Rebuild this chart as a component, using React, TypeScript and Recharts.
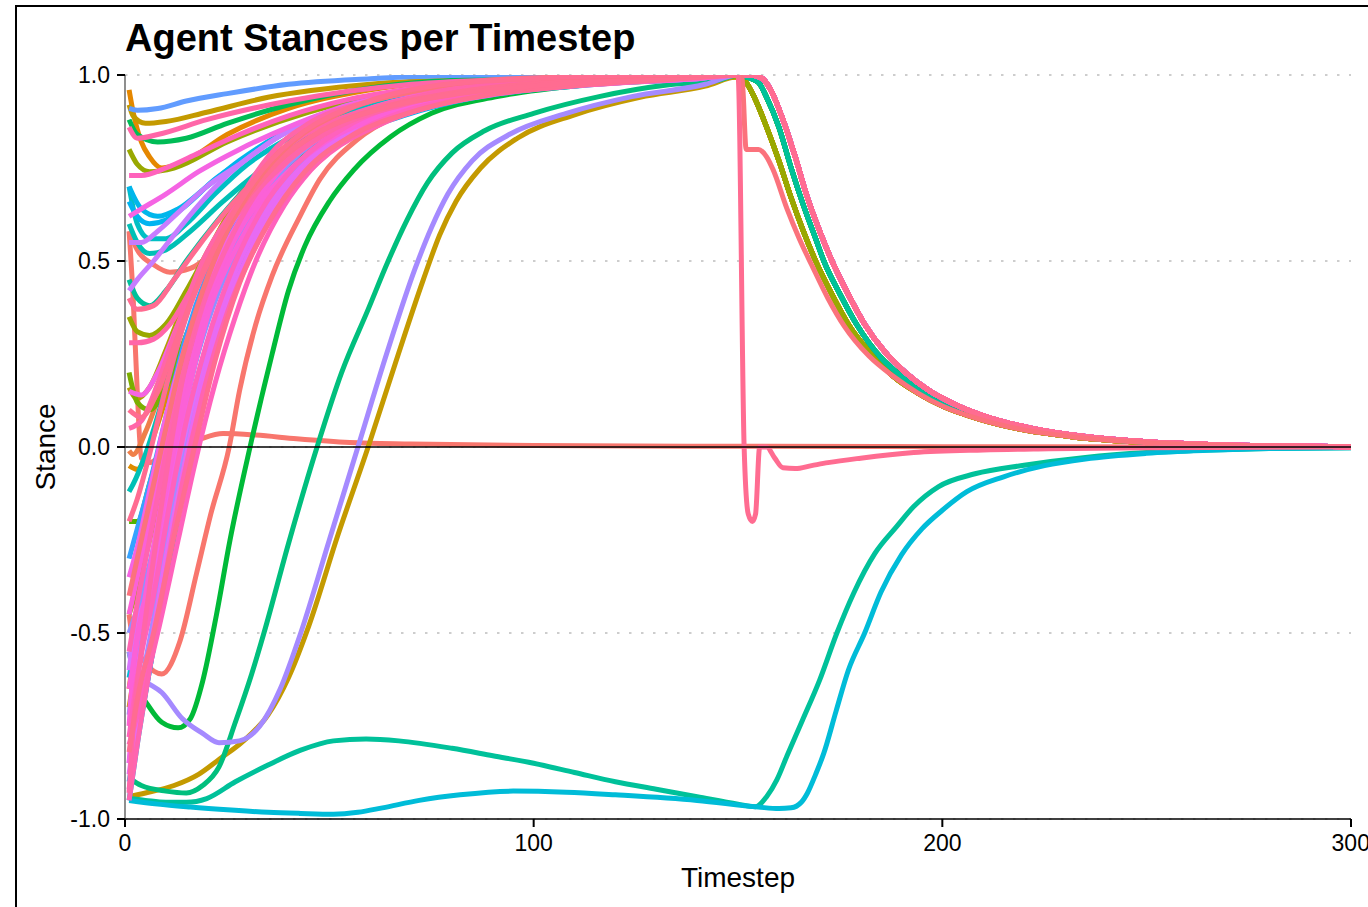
import { LineChart, Line, XAxis, YAxis, CartesianGrid } from 'recharts';

const W = 1368;
const H = 907;
const FONT = '"Liberation Sans", Arial, sans-serif';

const xTicks = [0, 100, 200, 300];
const yTicks = [-1, -0.5, 0, 0.5, 1];
const zeroRule = [[0, 0], [300, 0]];

// shared decay after t=150 (lower edge, middle, upper edge)
const tailEarly = [[150, 0.995], [152, 0.98], [154, 0.94], [157, 0.86], [160, 0.77], [163, 0.67], [166, 0.58], [169, 0.5], [173, 0.41], [177, 0.33], [183, 0.245], [188, 0.19], [194, 0.145], [200, 0.11], [209, 0.075], [219, 0.048], [232, 0.027], [248, 0.013], [263, 0.006], [283, 0.002], [300, 0.001]];
const tailMid = [[150, 1], [152, 0.995], [155, 0.98], [157, 0.94], [160, 0.86], [163, 0.75], [166, 0.65], [169, 0.56], [171, 0.5], [175, 0.41], [179, 0.33], [185, 0.24], [190, 0.19], [196, 0.145], [202, 0.11], [211, 0.075], [221, 0.048], [234, 0.027], [250, 0.013], [265, 0.006], [285, 0.002], [300, 0.001]];
const tailLate = [[150, 1], [153, 1], [156, 0.99], [158, 0.96], [161, 0.88], [164, 0.78], [167, 0.67], [170, 0.58], [173, 0.5], [177, 0.41], [181, 0.33], [186, 0.255], [191, 0.2], [197, 0.15], [203, 0.115], [212, 0.077], [222, 0.05], [235, 0.028], [250, 0.014], [265, 0.007], [285, 0.003], [300, 0.001]];

// agents with their own full path
const zeroAgent = [[1, 0.58], [2, 0.4], [3, 0.15], [4, -0.03], [6, -0.042], [8, -0.03], [11, -0.01], [14, 0.005], [18, 0.02], [24, 0.036], [32, 0.032], [42, 0.022], [55, 0.012], [70, 0.008], [100, 0.004], [150, 0.002], [200, 0.001], [300, 0]];
const tealAgent = [[1, -0.945], [5, -0.95], [10, -0.955], [15, -0.955], [20, -0.945], [27, -0.9], [35, -0.855], [43, -0.815], [51, -0.79], [59, -0.785], [67, -0.79], [80, -0.81], [90, -0.83], [100, -0.85], [110, -0.875], [120, -0.9], [130, -0.92], [140, -0.94], [150, -0.96], [154.3, -0.967], [157, -0.94], [159.5, -0.895], [162, -0.83], [165.8, -0.734], [170, -0.626], [174.2, -0.5], [178.3, -0.393], [183.5, -0.286], [188.8, -0.214], [193, -0.16], [199, -0.107], [208, -0.072], [220, -0.049], [235, -0.028], [250, -0.015], [265, -0.008], [280, -0.004], [300, -0.002]];
const cyanAgent = [[1, -0.95], [8, -0.96], [16, -0.968], [26, -0.976], [35, -0.982], [43, -0.985], [51, -0.987], [57, -0.982], [63, -0.97], [72, -0.95], [82, -0.935], [95, -0.925], [108, -0.928], [120, -0.935], [140, -0.95], [155, -0.968], [160, -0.972], [163, -0.97], [165.5, -0.955], [167, -0.93], [169, -0.88], [171, -0.823], [174, -0.71], [177, -0.6], [181, -0.5], [185, -0.39], [190, -0.29], [195, -0.22], [200, -0.17], [206, -0.12], [215, -0.08], [225, -0.05], [235, -0.032], [250, -0.017], [265, -0.009], [280, -0.004], [300, -0.002]];
const spikeAgent = [[1, 0.1], [4, 0.08], [8, 0.15], [13, 0.3], [19, 0.47], [26, 0.62], [34, 0.75], [44, 0.85], [57, 0.92], [75, 0.97], [100, 0.99], [130, 1], [150, 1], [151.5, 0], [152.5, -0.18], [153.5, -0.2], [154.3, -0.18], [155.3, 0], [157, 0], [159, -0.03], [161, -0.056], [164, -0.058], [168, -0.05], [172, -0.042], [180, -0.03], [193, -0.015], [210, -0.008], [226, -0.005], [250, -0.002], [300, 0]];
const stepAgent = [[1, -0.4], [3, -0.3], [6, -0.15], [10, 0.05], [14, 0.24], [19, 0.42], [25, 0.58], [32, 0.71], [41, 0.82], [53, 0.9], [70, 0.955], [95, 0.99], [140, 1], [150, 1], [151, 0.99], [152, 0.8], [155, 0.8], [157, 0.78], [158.6, 0.745], [162, 0.64], [165, 0.56], [168, 0.49], [172, 0.4], [176, 0.325], [182, 0.245], [188, 0.19], [194, 0.145], [200, 0.11], [209, 0.075], [219, 0.048], [232, 0.027], [248, 0.013], [263, 0.006], [283, 0.002], [300, 0.001]];

// rising parts up to t<150
const salmonRise = [[1, -0.45], [2, -0.52], [5, -0.58], [9, -0.61], [13.5, -0.52], [17.5, -0.34], [21, -0.18], [25.5, 0], [28, 0.15], [32, 0.33], [36, 0.46], [42.8, 0.62], [47.7, 0.72], [56.7, 0.825], [67, 0.893], [84, 0.942], [108, 0.973], [135, 0.99]];
const salmonDip = [[1, 0.58], [3, 0.53], [7, 0.49], [11, 0.47], [16, 0.48], [25, 0.56], [40, 0.72], [60, 0.86], [85, 0.94], [115, 0.98], [140, 0.995]];
const orangeHigh = [[1, 0.96], [2, 0.9], [4, 0.82], [6, 0.78], [9, 0.75], [15, 0.77], [25, 0.84], [40, 0.91], [60, 0.96], [90, 0.99], [140, 1]];
const orangeZero = [[1, -0.01], [2, -0.02], [5, 0.04], [9, 0.16], [14, 0.34], [20, 0.51], [27, 0.66], [35, 0.77], [46, 0.85], [60, 0.91], [80, 0.955], [110, 0.985], [140, 0.995]];
const orangeNeg = [[1, -0.65], [3, -0.5], [6, -0.34], [10, -0.12], [14, 0.1], [19, 0.32], [25, 0.52], [32, 0.67], [42, 0.79], [55, 0.88], [72, 0.935], [100, 0.975], [135, 0.99]];
const orangeDeep = [[1, -0.7], [3, -0.56], [6, -0.38], [10, -0.14], [14, 0.08], [19, 0.3], [25, 0.49], [32, 0.64], [41, 0.76], [52, 0.85], [66, 0.91], [84, 0.95], [108, 0.975], [135, 0.99]];
const amberZero = [[1, -0.05], [3, -0.06], [6, 0], [10, 0.13], [15, 0.3], [21, 0.46], [28, 0.6], [37, 0.72], [48, 0.82], [62, 0.89], [80, 0.94], [105, 0.97], [135, 0.99]];
const goldHigh = [[1, 0.92], [2, 0.89], [5, 0.87], [10, 0.875], [20, 0.9], [35, 0.94], [60, 0.975], [90, 0.99], [140, 1]];
const goldLow = [[1, -0.94], [5, -0.93], [12, -0.91], [18, -0.88], [23, -0.84], [29, -0.79], [35, -0.72], [40, -0.62], [45, -0.48], [52, -0.24], [59.5, 0], [66, 0.22], [73, 0.45], [77, 0.57], [81, 0.66], [87, 0.75], [96, 0.83], [110, 0.893], [126, 0.94], [142, 0.97]];
const goldMid = [[1, 0.16], [3, 0.13], [6, 0.16], [10, 0.26], [15, 0.4], [21, 0.54], [28, 0.67], [36, 0.77], [46, 0.85], [60, 0.91], [80, 0.955], [110, 0.985], [140, 0.995]];
const oliveHigh = [[1, 0.8], [3, 0.76], [6, 0.74], [12, 0.75], [25, 0.82], [45, 0.9], [70, 0.96], [100, 0.99], [140, 1]];
const oliveNeg = [[1, -0.45], [3, -0.38], [6, -0.25], [10, -0.05], [14, 0.16], [19, 0.37], [25, 0.56], [33, 0.7], [43, 0.81], [56, 0.89], [75, 0.95], [100, 0.98], [135, 0.995]];
const oliveDip = [[1, 0.35], [3, 0.31], [6, 0.3], [10, 0.33], [15, 0.42], [21, 0.54], [28, 0.66], [37, 0.76], [48, 0.85], [62, 0.91], [82, 0.955], [110, 0.985], [140, 0.995]];
const limeLow = [[1, 0.2], [3, 0.12], [6, 0.1], [10, 0.16], [15, 0.3], [21, 0.45], [28, 0.6], [37, 0.72], [48, 0.82], [62, 0.89], [82, 0.945], [110, 0.98], [140, 0.995]];
const greenRise = [[1, -0.55], [3, -0.64], [6, -0.7], [9, -0.74], [13, -0.755], [16, -0.73], [19, -0.63], [22.4, -0.45], [25.7, -0.25], [30.6, 0], [36, 0.25], [40, 0.42], [44, 0.54], [50, 0.66], [56, 0.745], [65, 0.834], [75, 0.897], [91, 0.942], [112, 0.973], [140, 0.99]];
const greenHigh = [[1, 0.88], [3, 0.84], [8, 0.82], [15, 0.83], [25, 0.87], [40, 0.92], [60, 0.965], [90, 0.99], [140, 1]];
const greenZero = [[1, -0.2], [3, -0.2], [6, -0.1], [10, 0.06], [15, 0.26], [21, 0.44], [28, 0.59], [37, 0.72], [48, 0.82], [62, 0.89], [80, 0.94], [105, 0.97], [135, 0.99]];
const tealGreenRise = [[1, -0.89], [4, -0.91], [10, -0.925], [15, -0.93], [19, -0.91], [23, -0.86], [27, -0.74], [31, -0.61], [34, -0.5], [40, -0.26], [47, 0], [53, 0.2], [59.5, 0.37], [64.4, 0.5], [69, 0.61], [74, 0.71], [80, 0.79], [88, 0.85], [100, 0.897], [116, 0.942], [132.6, 0.973], [145, 0.985]];
const tealMid = [[1, 0.45], [3, 0.4], [6, 0.38], [10, 0.42], [15, 0.5], [22, 0.6], [30, 0.7], [40, 0.79], [52, 0.87], [68, 0.93], [90, 0.97], [120, 0.99], [140, 0.995]];
const tealZero = [[1, -0.12], [2, -0.1], [5, -0.02], [9, 0.12], [14, 0.32], [20, 0.5], [27, 0.64], [35, 0.75], [45, 0.84], [58, 0.9], [75, 0.95], [100, 0.98], [135, 0.995]];
const tealDip = [[1, 0.7], [3, 0.6], [6, 0.56], [10, 0.56], [15, 0.6], [22, 0.68], [30, 0.76], [40, 0.83], [52, 0.89], [68, 0.94], [90, 0.975], [125, 0.995]];
const tealSoft = [[1, 0.6], [3, 0.55], [6, 0.52], [10, 0.53], [16, 0.58], [24, 0.66], [34, 0.75], [46, 0.83], [60, 0.89], [78, 0.935], [100, 0.97], [130, 0.99]];
const skyNeg = [[1, -0.95], [3, -0.8], [6, -0.6], [10, -0.36], [15, -0.08], [20, 0.16], [26, 0.4], [33, 0.58], [42, 0.73], [54, 0.83], [68, 0.89], [86, 0.94], [110, 0.97], [135, 0.99]];
const skyDip = [[1, 0.7], [4, 0.64], [8, 0.62], [13, 0.64], [20, 0.7], [28, 0.77], [38, 0.84], [50, 0.9], [65, 0.945], [85, 0.975], [120, 0.995]];
const skyHigh = [[1, 0.66], [3, 0.62], [6, 0.6], [10, 0.61], [15, 0.65], [22, 0.72], [30, 0.78], [40, 0.85], [52, 0.91], [68, 0.95], [90, 0.98], [130, 0.995]];
const cyanRise = [[1, -0.62], [3, -0.5], [7, -0.3], [11, -0.06], [16, 0.18], [21, 0.37], [28, 0.55], [36, 0.69], [46, 0.8], [60, 0.88], [78, 0.935], [100, 0.965], [130, 0.99]];
const azureNeg = [[1, -0.9], [3, -0.78], [6, -0.6], [10, -0.35], [14, -0.1], [18, 0.12], [23, 0.33], [30, 0.54], [38, 0.69], [48, 0.8], [62, 0.89], [85, 0.95], [115, 0.98], [140, 0.99]];
const azureLow = [[1, -0.3], [3, -0.22], [6, -0.1], [10, 0.08], [15, 0.3], [20, 0.46], [27, 0.61], [35, 0.73], [45, 0.83], [58, 0.9], [75, 0.95], [100, 0.98], [135, 0.995]];
const blueTop = [[1, 0.91], [3, 0.905], [8, 0.91], [15, 0.93], [25, 0.95], [40, 0.975], [60, 0.99], [90, 1], [140, 1]];
const violetA = [[1, -0.72], [3, -0.55], [6, -0.38], [10, -0.15], [14, 0.07], [19, 0.3], [25, 0.5], [32, 0.65], [40, 0.76], [52, 0.86], [68, 0.93], [90, 0.97], [120, 0.99]];
const violetB = [[1, -0.5], [4, -0.4], [8, -0.22], [12, 0], [17, 0.22], [23, 0.42], [30, 0.58], [38, 0.7], [48, 0.81], [62, 0.89], [80, 0.945], [105, 0.975], [140, 0.99]];
const purpleRise = [[1, -0.55], [2, -0.6], [5, -0.63], [9, -0.66], [14, -0.73], [19, -0.77], [23, -0.795], [28, -0.79], [33, -0.75], [38, -0.65], [43, -0.5], [50, -0.25], [57, 0], [64, 0.25], [71, 0.48], [75, 0.59], [79, 0.68], [85, 0.77], [94, 0.84], [108, 0.897], [124, 0.942], [142, 0.975]];
const purpleBundle = [[1, -0.85], [3, -0.7], [7, -0.46], [11, -0.2], [15, 0.03], [20, 0.25], [26, 0.45], [33, 0.61], [42, 0.74], [54, 0.84], [70, 0.91], [92, 0.955], [120, 0.98], [140, 0.99]];
const lilacA = [[1, 0.42], [3, 0.45], [7, 0.5], [12, 0.57], [18, 0.65], [25, 0.73], [33, 0.8], [43, 0.87], [56, 0.92], [72, 0.96], [95, 0.985], [140, 1]];
const lilacB = [[1, 0.55], [4, 0.55], [8, 0.58], [13, 0.63], [20, 0.7], [28, 0.76], [37, 0.83], [48, 0.89], [62, 0.94], [80, 0.97], [110, 0.99], [140, 1]];
const orchidA = [[1, -0.6], [2, -0.52], [6, -0.38], [10, -0.18], [15, 0.05], [20, 0.26], [26, 0.46], [34, 0.63], [44, 0.76], [57, 0.86], [74, 0.93], [100, 0.97], [135, 0.99]];
const orchidB = [[1, -0.88], [3, -0.72], [7, -0.5], [12, -0.2], [16, 0.03], [21, 0.27], [27, 0.47], [34, 0.62], [43, 0.75], [55, 0.85], [72, 0.92], [95, 0.96], [125, 0.985]];
const orchidC = [[1, -0.92], [3, -0.76], [6, -0.56], [10, -0.3], [15, -0.03], [20, 0.2], [26, 0.41], [33, 0.58], [42, 0.72], [54, 0.83], [70, 0.9], [95, 0.955], [130, 0.985]];
const magentaA = [[1, -0.85], [2, -0.7], [5, -0.48], [9, -0.22], [13, 0.02], [17, 0.22], [22, 0.42], [28, 0.59], [36, 0.73], [46, 0.84], [60, 0.91], [80, 0.96], [110, 0.985], [140, 0.995]];
const magentaB = [[1, 0.62], [4, 0.64], [10, 0.68], [18, 0.74], [28, 0.8], [40, 0.86], [55, 0.92], [75, 0.96], [100, 0.985], [140, 1]];
const magentaC = [[1, -0.35], [3, -0.27], [6, -0.12], [10, 0.08], [15, 0.28], [20, 0.44], [27, 0.59], [35, 0.71], [45, 0.82], [58, 0.89], [76, 0.945], [100, 0.975], [135, 0.99]];
const magentaD = [[1, 0.15], [4, 0.14], [8, 0.2], [13, 0.33], [19, 0.47], [26, 0.6], [35, 0.72], [46, 0.82], [60, 0.89], [78, 0.94], [100, 0.97], [130, 0.99]];
const fuchsiaA = [[1, -0.75], [2, -0.6], [5, -0.4], [9, -0.14], [13, 0.08], [18, 0.3], [24, 0.49], [31, 0.64], [40, 0.77], [52, 0.87], [68, 0.93], [90, 0.97], [130, 0.99]];
const fuchsiaB = [[1, -0.65], [3, -0.52], [7, -0.3], [11, -0.06], [16, 0.18], [21, 0.38], [28, 0.55], [36, 0.69], [46, 0.8], [60, 0.88], [78, 0.94], [105, 0.975], [140, 0.99]];
const fuchsiaC = [[1, -0.45], [3, -0.35], [7, -0.15], [11, 0.06], [16, 0.27], [22, 0.45], [29, 0.6], [38, 0.72], [49, 0.82], [63, 0.89], [82, 0.94], [106, 0.97], [135, 0.99]];
const roseA = [[1, -0.78], [3, -0.62], [7, -0.4], [11, -0.15], [15, 0.07], [20, 0.28], [26, 0.47], [33, 0.63], [42, 0.76], [54, 0.86], [70, 0.93], [95, 0.97], [130, 0.99]];
const roseB = [[1, 0.73], [4, 0.73], [10, 0.75], [18, 0.79], [28, 0.84], [40, 0.89], [55, 0.935], [75, 0.97], [100, 0.99], [140, 1]];
const roseC = [[1, -0.8], [4, -0.68], [8, -0.5], [13, -0.25], [17, -0.05], [22, 0.17], [27, 0.35], [32, 0.5], [39, 0.65], [45.5, 0.745], [55, 0.834], [67, 0.897], [84, 0.942], [108, 0.973], [133, 0.99], [145, 0.995]];
const roseD = [[1, -0.55], [3, -0.42], [6, -0.25], [10, -0.02], [14, 0.18], [19, 0.38], [25, 0.54], [32, 0.68], [41, 0.79], [53, 0.87], [70, 0.93], [95, 0.97], [130, 0.99]];
const roseE = [[1, -0.95], [3, -0.8], [6, -0.6], [10, -0.34], [14, -0.1], [19, 0.14], [25, 0.36], [32, 0.54], [40, 0.68], [50, 0.79], [63, 0.87], [80, 0.93], [104, 0.965], [130, 0.985]];
const pinkA = [[1, -0.93], [2, -0.75], [4, -0.55], [7, -0.3], [10, -0.08], [13, 0.12], [17, 0.33], [22, 0.51], [28, 0.66], [35, 0.78], [45, 0.87], [60, 0.93], [80, 0.97], [110, 0.99], [140, 1]];
const pinkFlat = [[1, 0.28], [3, 0.28], [7, 0.29], [11, 0.33], [16, 0.42], [22, 0.54], [30, 0.66], [40, 0.77], [52, 0.86], [68, 0.92], [90, 0.965], [120, 0.99], [140, 0.995]];
const pinkLow = [[1, 0.05], [4, 0.07], [8, 0.17], [13, 0.33], [19, 0.5], [26, 0.63], [34, 0.75], [44, 0.84], [57, 0.9], [75, 0.95], [100, 0.98], [135, 0.995]];
const pinkHigh = [[1, 0.86], [3, 0.83], [8, 0.84], [20, 0.88], [40, 0.93], [70, 0.975], [100, 0.99], [140, 1]];
const coralA = [[1, -0.82], [3, -0.68], [7, -0.5], [12, -0.24], [17, 0], [22, 0.23], [28, 0.44], [35, 0.6], [44, 0.74], [56, 0.84], [70, 0.9], [88, 0.945], [110, 0.972], [135, 0.99]];
const coralB = [[1, -0.2], [3, -0.14], [6, -0.02], [10, 0.16], [15, 0.35], [21, 0.51], [28, 0.64], [37, 0.76], [48, 0.85], [62, 0.91], [82, 0.955], [110, 0.985], [140, 0.995]];
const coralC = [[1, 0.4], [3, 0.37], [7, 0.38], [12, 0.45], [18, 0.54], [26, 0.65], [36, 0.76], [48, 0.85], [63, 0.91], [82, 0.95], [105, 0.975], [135, 0.99]];

const series = [
  { id: 'zero', color: '#F8766D', path: zeroAgent },
  { id: 'salmonRise', color: '#F8766D', path: [...salmonRise, ...tailMid] },
  { id: 'salmonDip', color: '#F8766D', path: [...salmonDip, ...tailLate] },
  { id: 'orangeHigh', color: '#E58700', path: [...orangeHigh, ...tailEarly] },
  { id: 'orangeZero', color: '#EF7F49', path: [...orangeZero, ...tailEarly] },
  { id: 'orangeNeg', color: '#E38900', path: [...orangeNeg, ...tailEarly] },
  { id: 'orangeDeep', color: '#E58700', path: [...orangeDeep, ...tailEarly] },
  { id: 'amberZero', color: '#DE8C00', path: [...amberZero, ...tailEarly] },
  { id: 'goldHigh', color: '#C49A00', path: [...goldHigh, ...tailEarly] },
  { id: 'goldLow', color: '#C49A00', path: [...goldLow, ...tailEarly] },
  { id: 'goldMid', color: '#B0A100', path: [...goldMid, ...tailEarly] },
  { id: 'oliveHigh', color: '#99A800', path: [...oliveHigh, ...tailEarly] },
  { id: 'oliveNeg', color: '#99A800', path: [...oliveNeg, ...tailEarly] },
  { id: 'oliveDip', color: '#99A800', path: [...oliveDip, ...tailMid] },
  { id: 'limeLow', color: '#7CAE00', path: [...limeLow, ...tailMid] },
  { id: 'greenZero', color: '#53B400', path: [...greenZero, ...tailMid] },
  { id: 'greenRise', color: '#00BA38', path: [...greenRise, ...tailMid] },
  { id: 'greenHigh', color: '#00BC56', path: [...greenHigh, ...tailMid] },
  { id: 'tealGreen', color: '#00BF7D', path: [...tealGreenRise, ...tailMid] },
  { id: 'teal', color: '#00C19A', path: tealAgent },
  { id: 'tealMid', color: '#00C19A', path: [...tealMid, ...tailMid] },
  { id: 'tealZero', color: '#00C0B5', path: [...tealZero, ...tailLate] },
  { id: 'tealSoft', color: '#00C0B5', path: [...tealSoft, ...tailLate] },
  { id: 'tealDip', color: '#00BFC4', path: [...tealDip, ...tailLate] },
  { id: 'cyan', color: '#00BCD8', path: cyanAgent },
  { id: 'cyanRise', color: '#00BCD8', path: [...cyanRise, ...tailLate] },
  { id: 'skyNeg', color: '#00B6EB', path: [...skyNeg, ...tailLate] },
  { id: 'skyDip', color: '#00B6EB', path: [...skyDip, ...tailLate] },
  { id: 'skyHigh', color: '#00B4F0', path: [...skyHigh, ...tailLate] },
  { id: 'azureNeg', color: '#00ABFD', path: [...azureNeg, ...tailLate] },
  { id: 'azureLow', color: '#35A2FF', path: [...azureLow, ...tailLate] },
  { id: 'blueTop', color: '#619CFF', path: [...blueTop, ...tailLate] },
  { id: 'violetA', color: '#8F91FF', path: [...violetA, ...tailLate] },
  { id: 'violetB', color: '#8F91FF', path: [...violetB, ...tailLate] },
  { id: 'purple', color: '#A58AFF', path: [...purpleRise, ...tailLate] },
  { id: 'purpleBundle', color: '#A58AFF', path: [...purpleBundle, ...tailLate] },
  { id: 'lilacA', color: '#C77CFF', path: [...lilacA, ...tailLate] },
  { id: 'lilacB', color: '#C77CFF', path: [...lilacB, ...tailLate] },
  { id: 'orchidA', color: '#D774FD', path: [...orchidA, ...tailLate] },
  { id: 'orchidB', color: '#E76BF3', path: [...orchidB, ...tailLate] },
  { id: 'orchidC', color: '#E76BF3', path: [...orchidC, ...tailLate] },
  { id: 'magentaA', color: '#F564E3', path: [...magentaA, ...tailLate] },
  { id: 'magentaB', color: '#F564E3', path: [...magentaB, ...tailLate] },
  { id: 'magentaC', color: '#F564E3', path: [...magentaC, ...tailLate] },
  { id: 'magentaD', color: '#F564E3', path: [...magentaD, ...tailLate] },
  { id: 'fuchsiaA', color: '#FB61D7', path: [...fuchsiaA, ...tailLate] },
  { id: 'fuchsiaB', color: '#FB61D7', path: [...fuchsiaB, ...tailLate] },
  { id: 'fuchsiaC', color: '#FB61D7', path: [...fuchsiaC, ...tailLate] },
  { id: 'roseA', color: '#FF62BC', path: [...roseA, ...tailLate] },
  { id: 'roseB', color: '#FF62BC', path: [...roseB, ...tailLate] },
  { id: 'roseC', color: '#FF62BC', path: [...roseC, ...tailLate] },
  { id: 'roseD', color: '#FF64B0', path: [...roseD, ...tailLate] },
  { id: 'roseE', color: '#FF64B0', path: [...roseE, ...tailLate] },
  { id: 'pinkA', color: '#FF66A8', path: [...pinkA, ...tailLate] },
  { id: 'pinkFlat', color: '#FF66A8', path: [...pinkFlat, ...tailLate] },
  { id: 'pinkLow', color: '#FF66A8', path: [...pinkLow, ...tailLate] },
  { id: 'pinkHigh', color: '#FF66A8', path: [...pinkHigh, ...tailLate] },
  { id: 'coralA', color: '#FF6C91', path: [...coralA, ...tailLate] },
  { id: 'coralB', color: '#FF6C91', path: [...coralB, ...tailLate] },
  { id: 'coralC', color: '#FF6C91', path: [...coralC, ...tailLate] },
  { id: 'step', color: '#FB727C', path: stepAgent },
  { id: 'spike', color: '#FF6C91', path: spikeAgent },
];

const toPoints = (path: number[][]) => path.map(([t, v]) => ({ t, v }));

export default function App() {
  const tickStyle = { fill: '#000', fontSize: 23, fontFamily: FONT };
  return (
    <div style={{ position: 'fixed', left: 0, top: 0, width: W, height: H, overflow: 'hidden', background: '#fff' }}>
      <div style={{ position: 'absolute', left: 15, top: 5, width: 1420, height: 960, border: '2px solid #000', boxSizing: 'border-box' }} />
      <div style={{ position: 'absolute', left: 0, top: 0 }}>
        <LineChart width={W} height={H} margin={{ top: 75, right: 17, bottom: 28, left: 0 }}>
          <CartesianGrid vertical={false} stroke="#bdbdbd" strokeDasharray="2.5 9.5" strokeWidth={1.6} />
          <XAxis
            type="number"
            dataKey="t"
            domain={[0, 300]}
            ticks={xTicks}
            allowDataOverflow
            height={60}
            axisLine={{ stroke: '#000', strokeWidth: 1.5 }}
            tickLine={{ stroke: '#000', strokeWidth: 2 }}
            tickSize={8}
            tickMargin={8}
            tick={tickStyle}
          />
          <YAxis
            type="number"
            domain={[-1, 1]}
            ticks={yTicks}
            allowDataOverflow
            width={125}
            axisLine={{ stroke: '#444', strokeWidth: 1.2 }}
            tickLine={{ stroke: '#000', strokeWidth: 2 }}
            tickSize={8}
            tickMargin={7}
            tick={tickStyle}
            tickFormatter={(v: number) => v.toFixed(1)}
          />
          {series.map((s) => (
            <Line
              key={s.id}
              data={toPoints(s.path)}
              dataKey="v"
              type="monotone"
              stroke={s.color}
              strokeWidth={5}
              dot={false}
              activeDot={false}
              isAnimationActive={false}
            />
          ))}
          {/* horizontal rule at zero, drawn last so it sits on top */}
          <Line
            data={toPoints(zeroRule)}
            dataKey="v"
            type="linear"
            stroke="#000"
            strokeWidth={1.6}
            dot={false}
            activeDot={false}
            isAnimationActive={false}
          />
        </LineChart>
      </div>
      <svg width={W} height={H} style={{ position: 'absolute', left: 0, top: 0, pointerEvents: 'none' }}>
        <text x={125} y={51} fontSize={38} fontWeight={700} fontFamily={FONT} fill="#000">Agent Stances per Timestep</text>
        <text x={738} y={887} fontSize={28} fontFamily={FONT} textAnchor="middle" fill="#000">Timestep</text>
        <text transform="translate(55,447) rotate(-90)" fontSize={28} fontFamily={FONT} textAnchor="middle" fill="#000">Stance</text>
      </svg>
    </div>
  );
}
